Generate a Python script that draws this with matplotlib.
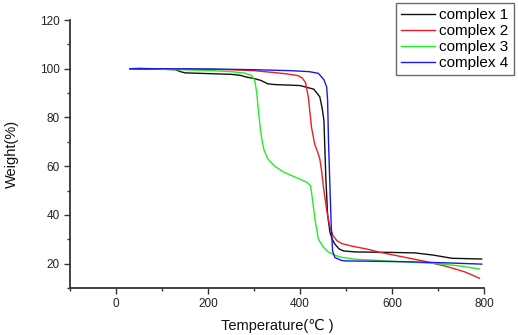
import matplotlib
matplotlib.use("Agg")
import matplotlib.pyplot as plt
from matplotlib.ticker import MultipleLocator

plt.rcParams['font.family'] = ['Liberation Sans', 'DejaVu Sans']

# ---- data ----
labels = ["complex 1", "complex 2", "complex 3", "complex 4"]
colors = ["#111111", "#ee1c24", "#22ee22", "#1a1ae6"]

x1 = [30, 100, 130, 140, 150, 200, 250, 270, 285, 300, 315, 330, 345, 400, 430, 443, 448, 452, 456,
      460, 465, 470, 476, 485, 495, 520, 600, 650, 690, 730, 795]
y1 = [100, 99.8, 99.6, 98.8, 98.3, 98.0, 97.7, 97.3, 96.5, 96.0, 95.2, 93.8, 93.5, 93.1, 91.6, 88.5,
      84, 78.8, 56, 40, 33, 30, 28, 26, 25.2, 24.8, 24.6, 24.4, 23.5, 22.2, 21.9]

x2 = [30, 150, 250, 300, 340, 370, 395, 405, 412, 418, 425, 432, 438, 443, 447, 452, 458, 465, 472,
      480, 490, 510, 550, 575, 620, 670, 720, 760, 790]
y2 = [100, 99.9, 99.6, 99.2, 98.5, 97.9, 97.2, 96.2, 94.3, 88.5, 76, 69, 66, 63, 58, 50, 42, 35, 31.4,
      29.5, 28.3, 27.3, 25.8, 24.6, 22.9, 21.0, 18.8, 16.5, 14.0]

x3 = [30, 50, 100, 200, 250, 280, 295, 302, 306, 310, 314, 318, 322, 330, 345, 365, 390, 415, 423,
      428, 433, 440, 450, 460, 475, 490, 520, 600, 700, 750, 790]
y3 = [100, 100.3, 99.8, 99.3, 98.8, 98.2, 97.2, 95, 90, 82, 75, 70, 66.5, 63, 60, 57.5, 55.5, 53.4, 52,
      45, 37.6, 30, 27, 25, 23.5, 22.6, 21.8, 21.0, 20.0, 19.0, 17.8]

x4 = [30, 100, 200, 300, 380, 420, 440, 452, 458, 460, 462, 465, 468, 471, 476, 490, 500, 550, 650,
      720, 795]
y4 = [100, 100, 99.9, 99.6, 99.2, 98.8, 98.1, 95.5, 92.5, 87, 70, 52, 35, 25, 22.5, 21.3, 21.1, 21.0,
      20.7, 20.3, 19.8]

xs = [x1, x2, x3, x4]
ys = [y1, y2, y3, y4]

# ---- figure ----
fig = plt.figure(figsize=(5.18, 3.35), dpi=100)
ax = fig.add_axes([70/518, 47/335, 414/518, 268/335])

lines = []
for x, y, c, lab in zip(xs, ys, colors, labels):
    ln, = ax.plot(x, y, color=c, lw=1.0, label=lab)
    lines.append(ln)

ax.set_xlim(-100, 800)
ax.set_ylim(10, 120)
ax.xaxis.set_major_locator(MultipleLocator(200))
ax.xaxis.set_minor_locator(MultipleLocator(100))
ax.yaxis.set_major_locator(MultipleLocator(20))
ax.yaxis.set_minor_locator(MultipleLocator(10))

for s in ["top", "right"]:
    ax.spines[s].set_visible(False)
for s in ["left", "bottom"]:
    ax.spines[s].set_linewidth(1.3)
    ax.spines[s].set_color("#333333")

ax.tick_params(which="major", direction="out", length=4.5, width=1.0, color="#333333",
               labelsize=8.5, labelcolor="#222222", pad=3)
ax.tick_params(which="minor", direction="out", length=2.5, width=1.0, color="#333333")

ax.set_xlabel("Temperature(℃ )", fontsize=10.5, color="#111111", labelpad=6)
ax.set_ylabel("Weight(%)", fontsize=10.5, color="#111111", labelpad=15)

leg = fig.legend(handles=lines, loc="upper right", bbox_to_anchor=(0.992, 0.991),
                 fontsize=11, frameon=True, fancybox=False, shadow=False,
                 handlelength=2.2, handletextpad=0.3, labelspacing=0.12, borderpad=0.35,
                 borderaxespad=0.0)
leg.get_frame().set_edgecolor("#444444")
leg.get_frame().set_linewidth(1.0)

fig.savefig("out.png", dpi=100)
